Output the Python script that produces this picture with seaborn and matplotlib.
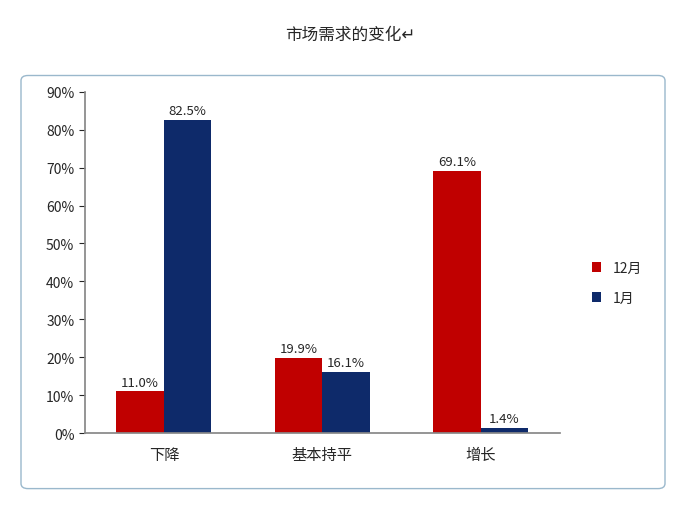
import matplotlib
matplotlib.use('Agg')
import matplotlib.pyplot as plt
import seaborn as sns
import pandas as pd
from matplotlib.patches import FancyBboxPatch
from matplotlib.ticker import PercentFormatter

CATEGORIES = ['下降', '基本持平', '增长']
SERIES = ['12月', '1月']
DEC_VALUES = [11.0, 19.9, 69.1]
JAN_VALUES = [82.5, 16.1, 1.4]
COLORS = ['#C00000', '#0E2A6A']

sns.set_theme(style='white')
plt.rcParams['font.family'] = ['Noto Sans CJK SC', 'DejaVu Sans']

df = pd.DataFrame({
    'cat': CATEGORIES * 2,
    'series': [SERIES[0]] * 3 + [SERIES[1]] * 3,
    'value': DEC_VALUES + JAN_VALUES,
})

fig = plt.figure(figsize=(7, 5.1), dpi=100)
fig.patches.append(FancyBboxPatch((0.03, 0.04), 0.92, 0.81, boxstyle='round,pad=0,rounding_size=0.01',
                                  transform=fig.transFigure, fill=False, edgecolor='#9ab8cc', linewidth=1))
fig.text(0.5, 0.93, '市场需求的变化↵', ha='center', va='center', fontsize=12)

ax = fig.add_axes([0.121, 0.149, 0.679, 0.669])
sns.barplot(data=df, x='cat', y='value', hue='series', palette=COLORS, width=0.6,
            saturation=1, linewidth=0, ax=ax, legend=True)
for cont in ax.containers:
    ax.bar_label(cont, fmt='%.1f%%', padding=2, fontsize=9.5)

ax.set_ylim(0, 90)
ax.set_yticks(range(0, 91, 10))
ax.yaxis.set_major_formatter(PercentFormatter(decimals=0))
ax.set_xlabel('')
ax.set_ylabel('')
ax.tick_params(axis='y', labelsize=10, left=True, length=4, width=0.8)
ax.tick_params(axis='x', labelsize=11)
for s in ['top', 'right']:
    ax.spines[s].set_visible(False)
for s in ['left', 'bottom']:
    ax.spines[s].set_color('#888888')
ax.legend(loc='center left', bbox_to_anchor=(1.04, 0.44), frameon=False, fontsize=10,
          handlelength=0.7, handleheight=0.7, labelspacing=1.2)

fig.savefig('out.png', dpi=100)
